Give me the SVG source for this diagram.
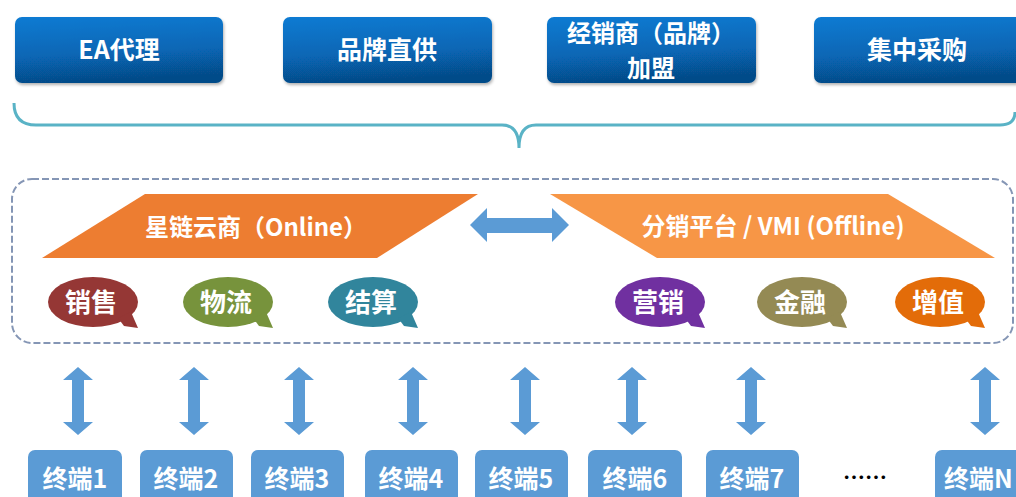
<svg xmlns="http://www.w3.org/2000/svg" width="1016" height="497" viewBox="0 0 1016 497">
<defs>
<linearGradient id="gBlue" x1="0" y1="0" x2="0.15" y2="1">
<stop offset="0" stop-color="#0a7bd3"/>
<stop offset="0.6" stop-color="#0766b4"/>
<stop offset="1" stop-color="#064b89"/>
</linearGradient>
<filter id="sh" x="-10%" y="-10%" width="130%" height="140%">
<feDropShadow dx="1" dy="2" stdDeviation="1.5" flood-color="#000" flood-opacity="0.3"/>
</filter>
</defs>
<style>
.top{fill:url(#gBlue);filter:url(#sh)}
.t{font-family:"Noto Sans CJK SC","Noto Sans",sans-serif;font-weight:bold;fill:#fff;text-anchor:middle}
.tt{font-size:25px}
.bt{font-size:26px}
.term{fill:#5b9bd5}
.arr{fill:#5b9bd5}
</style>
<rect width="1016" height="497" fill="#fff"/>

<g id="top-ea"><rect class="top" x="15" y="17" width="208" height="66" rx="7"/><text class="t tt" x="119" y="59">EA代理</text></g>
<g id="top-brand"><rect class="top" x="283" y="17" width="209" height="66" rx="7"/><text class="t tt" x="387" y="59">品牌直供</text></g>
<g id="top-dealer"><rect class="top" x="547" y="17" width="209" height="66" rx="7"/><text class="t" font-size="24" x="651" y="42">经销商（品牌）</text><text class="t" font-size="24" x="651" y="77">加盟</text></g>
<g id="top-central"><rect class="top" x="814" y="17" width="215" height="66" rx="7"/><text class="t tt" x="917" y="59">集中采购</text></g>

<g id="brace"><path d="M14 103 Q14 125 36 125 L502 125 Q519 125 519 148 Q519 125 536 125 L1000 125 Q1015 125 1015 112" fill="none" stroke="#5ab3c6" stroke-width="3"/></g>

<g id="platform">
<rect x="12" y="179" width="1001" height="164" rx="20" fill="none" stroke="#8596b5" stroke-width="2" stroke-dasharray="7,3"/>
</g>

<g id="online"><polygon points="145,194 478,194 377,258 42,258" fill="#ed7d31"/><text class="t" x="256" y="236" font-size="24">星链云商（Online）</text></g>
<g id="offline"><polygon points="550,194 888,194 995,258 657,258" fill="#f79646"/><text class="t" x="773" y="235" font-size="24">分销平台 / VMI (Offline)</text></g>

<g id="connectors">
<polygon class="arr" points="470,225 487,208 487,218 552,218 552,208 569,225 552,242 552,233 487,233 487,242"/>
<g id="v-arrows">
<polygon class="arr" transform="translate(78,0)" points="0,367 15,380 6,380 6,422 15,422 0,435 -15,422 -6,422 -6,380 -15,380"/>
<polygon class="arr" transform="translate(194,0)" points="0,367 15,380 6,380 6,422 15,422 0,435 -15,422 -6,422 -6,380 -15,380"/>
<polygon class="arr" transform="translate(299,0)" points="0,367 15,380 6,380 6,422 15,422 0,435 -15,422 -6,422 -6,380 -15,380"/>
<polygon class="arr" transform="translate(413,0)" points="0,367 15,380 6,380 6,422 15,422 0,435 -15,422 -6,422 -6,380 -15,380"/>
<polygon class="arr" transform="translate(525,0)" points="0,367 15,380 6,380 6,422 15,422 0,435 -15,422 -6,422 -6,380 -15,380"/>
<polygon class="arr" transform="translate(632,0)" points="0,367 15,380 6,380 6,422 15,422 0,435 -15,422 -6,422 -6,380 -15,380"/>
<polygon class="arr" transform="translate(751,0)" points="0,367 15,380 6,380 6,422 15,422 0,435 -15,422 -6,422 -6,380 -15,380"/>
<polygon class="arr" transform="translate(985,0)" points="0,367 15,380 6,380 6,422 15,422 0,435 -15,422 -6,422 -6,380 -15,380"/>
</g>
</g>

<g id="b-sales"><ellipse cx="93" cy="302" rx="45" ry="25" fill="#953735"/><polygon points="118,318 131,312 138,328 124,326" fill="#953735"/><text class="t bt" x="91" y="312">销售</text></g>
<g id="b-logistics"><ellipse cx="228" cy="302" rx="45" ry="25" fill="#77933c"/><polygon points="253,318 266,312 273,328 259,326" fill="#77933c"/><text class="t bt" x="226" y="312">物流</text></g>
<g id="b-settle"><ellipse cx="373" cy="302" rx="45" ry="25" fill="#31859c"/><polygon points="398,318 411,312 418,328 404,326" fill="#31859c"/><text class="t bt" x="371" y="312">结算</text></g>
<g id="b-marketing"><ellipse cx="660" cy="302" rx="45" ry="25" fill="#7030a0"/><polygon points="685,318 698,312 705,328 691,326" fill="#7030a0"/><text class="t bt" x="658" y="312">营销</text></g>
<g id="b-finance"><ellipse cx="802" cy="302" rx="45" ry="25" fill="#948a54"/><polygon points="827,318 840,312 847,328 833,326" fill="#948a54"/><text class="t bt" x="800" y="312">金融</text></g>
<g id="b-value"><ellipse cx="940" cy="302" rx="45" ry="25" fill="#e36c09"/><polygon points="965,318 978,312 985,328 971,326" fill="#e36c09"/><text class="t bt" x="938" y="312">增值</text></g>

<g id="term1"><rect class="term" x="28" y="450" width="94" height="60" rx="7"/><text class="t" font-size="25" x="75" y="488">终端1</text></g>
<g id="term2"><rect class="term" x="140" y="450" width="93" height="60" rx="7"/><text class="t" font-size="25" x="186" y="488">终端2</text></g>
<g id="term3"><rect class="term" x="251" y="450" width="93" height="60" rx="7"/><text class="t" font-size="25" x="297" y="488">终端3</text></g>
<g id="term4"><rect class="term" x="365" y="450" width="93" height="60" rx="7"/><text class="t" font-size="25" x="411" y="488">终端4</text></g>
<g id="term5"><rect class="term" x="475" y="450" width="93" height="60" rx="7"/><text class="t" font-size="25" x="521" y="488">终端5</text></g>
<g id="term6"><rect class="term" x="588" y="450" width="94" height="60" rx="7"/><text class="t" font-size="25" x="635" y="488">终端6</text></g>
<g id="term7"><rect class="term" x="706" y="450" width="93" height="60" rx="7"/><text class="t" font-size="25" x="752" y="488">终端7</text></g>
<g id="dots"><text x="865" y="485" font-family="Noto Sans CJK SC,sans-serif" font-weight="bold" font-size="22" fill="#000" text-anchor="middle">……</text></g>
<g id="termN"><rect class="term" x="935" y="450" width="100" height="60" rx="7"/><text class="t" font-size="25" x="944" y="488" style="text-anchor:start">终端N</text></g>
</svg>
